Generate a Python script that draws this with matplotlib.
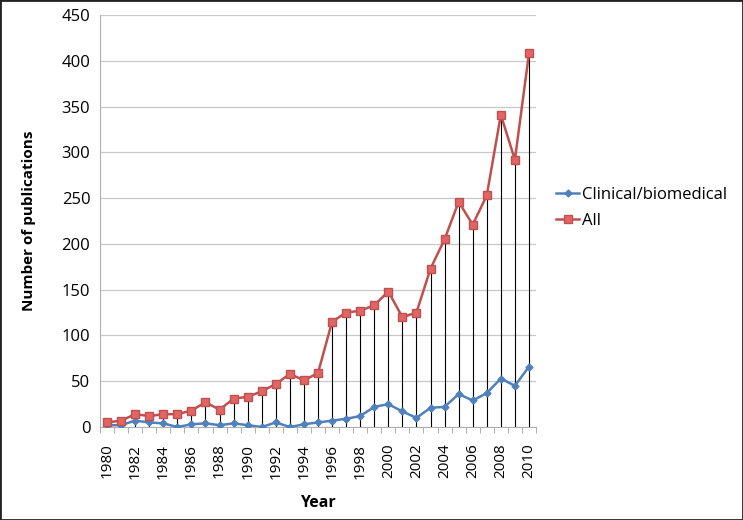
import matplotlib
matplotlib.use("Agg")
import matplotlib.pyplot as plt
import numpy as np

years = list(range(1980, 2011))
clinical = [2, 2, 7, 5, 4, 0, 3, 4, 2, 4, 2, 0, 5, 0, 3, 5, 7, 9, 12, 22, 25, 17, 10, 21, 22, 36, 29, 37, 53, 45, 66]
all_pubs = [5, 7, 14, 12, 14, 14, 18, 27, 19, 31, 33, 39, 47, 58, 51, 59, 115, 125, 127, 133, 148, 120, 125, 173, 205, 246, 221, 253, 341, 292, 408]
y_ticks = [0, 50, 100, 150, 200, 250, 300, 350, 400, 450]

plt.rcParams['font.family'] = ['Open Sans', 'DejaVu Sans']

fig = plt.figure(figsize=(7.43, 5.2), dpi=100)
ax = fig.add_axes([0.1346, 0.1788, 0.5868, 0.7923])

x = np.arange(len(years))
ax.vlines(x, 0, all_pubs, colors='black', linewidth=0.8, zorder=2)
ax.plot(x, clinical, color='#4F81BD', marker='D', markersize=3.5, linewidth=1.8,
        label='Clinical/biomedical', zorder=3)
ax.plot(x, all_pubs, color='#C0504D', marker='s', markersize=5.5, linewidth=1.8,
        markerfacecolor='#E06666', markeredgecolor='#C0504D', label='All', zorder=4)

ax.set_xlim(-0.5, len(years) - 0.5)
ax.set_ylim(0, 450)
ax.set_yticks(y_ticks)
ax.grid(axis='y', color='#C8C8C8', linewidth=0.9)
ax.set_axisbelow(True)

ax.set_xticks(x[::2])
ax.set_xticklabels([str(y) for y in years[::2]], rotation=90, fontsize=11)
ax.set_xticks(np.arange(-0.5, len(years), 1), minor=True)
ax.tick_params(axis='x', which='major', length=0, pad=12)
ax.tick_params(axis='x', which='minor', length=4, color='#A0A0A0')
ax.tick_params(axis='y', length=0, labelsize=12, pad=7)

for s in ['top', 'right']:
    ax.spines[s].set_visible(False)
ax.spines['left'].set_color('#B0B0B0')
ax.spines['bottom'].set_color('#B0B0B0')

ax.set_xlabel('Year', fontsize=11.5, fontweight='bold', labelpad=12)
ax.set_ylabel('Number of publications', fontsize=11, fontweight='bold', labelpad=18)

fig.legend(loc='center left', bbox_to_anchor=(0.728, 0.600), frameon=False,
           fontsize=12, handlelength=1.4, handletextpad=0.15, labelspacing=0.6)

fig.add_artist(plt.Rectangle((0, 0), 1, 1, transform=fig.transFigure, fill=False,
                             edgecolor='#222222', linewidth=2))

fig.savefig('out.png', dpi=100)
